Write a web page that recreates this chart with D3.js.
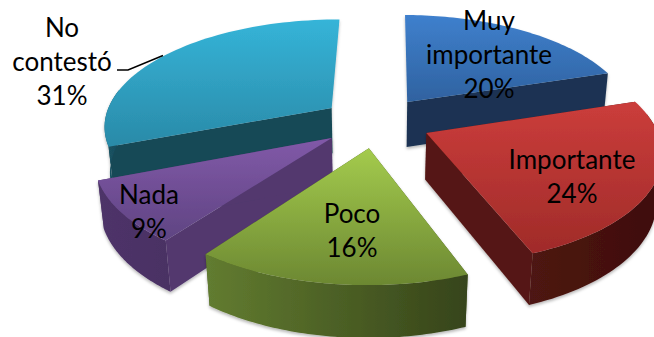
<!DOCTYPE html>
<html>
<head>
<meta charset="utf-8">
<script src="https://cdn.jsdelivr.net/npm/d3@7"></script>
<style>
  html, body { margin: 0; padding: 0; background: #fff; overflow: hidden; }
  svg { display: block; }
  text { font-family: Lato, "Open Sans", sans-serif; fill: #000; }
</style>
</head>
<body>
<svg id="chart" width="654" height="337"></svg>
<script>
// Survey answers, as percentages
const categories = ["Muy importante", "Importante", "Poco", "Nada", "No contestó"];
const shares = [20, 24, 16, 9, 31];

// Per-slice colours: top face gradient, radial wall, outer wall gradient
const topLight = ["#3F80CD", "#CB3D3B", "#A4CB4D", "#8159A8", "#35B4D8"];
const topDark = ["#2F62A0", "#A02B29", "#6C8832", "#5F4482", "#2A8AA8"];
const radialWall = ["#1A3352", "#551815", "#46591F", "#52386E", "#174957"];
const outerLeft = ["#1E3A5E", "#4E1512", "#627C30", "#4E3468", "#1B5566"];
const outerRight = ["#1A3352", "#3E0E0C", "#36441A", "#4A3064", "#174957"];

// Label text placement on the page (centre x, first baseline y)
const labelX = [489, 572, 352, 149, 62];
const labelY = [30, 169, 223, 204, 37];
const lineStep = 34;

// Painter's order: slices further back come first
const paintOrder = [4, 0, 3, 1, 2];

// View of the tilted pie
const view = { cx: 376, cy: 122, radius: 228, tilt: 106.3, persp: 0.156, depth: 47, depthPersp: 0.02, explode: 0.24, turn: 0.01 };

const svg = d3.select("#chart");
const defs = svg.append("defs");

const shadow = defs.append("filter").attr("id", "soft")
  .attr("x", "-10%").attr("y", "-10%").attr("width", "120%").attr("height", "120%");
shadow.append("feDropShadow").attr("dx", 0).attr("dy", 2)
  .attr("stdDeviation", 1.6).attr("flood-color", "#000").attr("flood-opacity", 0.28);

function gradient(id, horizontal, from, to) {
  const g = defs.append("linearGradient").attr("id", id)
    .attr("x1", 0).attr("y1", 0)
    .attr("x2", horizontal ? 1 : 0).attr("y2", horizontal ? 0 : 1);
  g.append("stop").attr("offset", 0).attr("stop-color", from);
  g.append("stop").attr("offset", 1).attr("stop-color", to);
}

// Project a point of the pie plane (unit radius) at height level z (0 top, 1 bottom)
function project(px, py, z) {
  const w = 1 - view.persp * py + view.depthPersp * z;
  return [
    view.cx + view.radius * px / w,
    view.cy + (view.tilt * py + view.depth * z) / w
  ];
}

const slices = d3.pie().sort(null).startAngle(view.turn).endAngle(2 * Math.PI + view.turn)(shares);
const line = d3.line();

paintOrder.forEach(i => {
  const s = slices[i];
  const mid = (s.startAngle + s.endAngle) / 2 - view.turn;
  const ox = view.explode * Math.sin(mid);
  const oy = -view.explode * Math.cos(mid);
  const rim = d3.range(0, 61).map(k => s.startAngle + (s.endAngle - s.startAngle) * k / 60);
  const rimAt = (a, z) => project(ox + Math.sin(a), oy - Math.cos(a), z);
  const apexAt = z => project(ox, oy, z);

  gradient("top" + i, false, topLight[i], topDark[i]);
  gradient("outer" + i, true, outerLeft[i], outerRight[i]);

  const g = svg.append("g").attr("filter", "url(#soft)");

  // Walls first, the top face is laid over whatever it hides.
  // A radial wall pointing straight back is seen edge-on, so it is skipped.
  [s.startAngle, s.endAngle].filter(a => Math.abs(Math.sin(a)) > 0.1).forEach(a => {
    g.append("path")
      .attr("d", line([apexAt(0), rimAt(a, 0), rimAt(a, 1), apexAt(1)]) + "Z")
      .attr("fill", radialWall[i]);
  });

  // Only the part of the rim turned towards the viewer gets an outer wall
  const frontRim = rim.filter(a => Math.cos(a) < 0.2);
  if (frontRim.length > 1) {
    g.append("path")
      .attr("d", line(frontRim.map(a => rimAt(a, 0)).concat(frontRim.slice().reverse().map(a => rimAt(a, 1)))) + "Z")
      .attr("fill", `url(#outer${i})`);
  }
  g.append("path")
    .attr("d", line([apexAt(0)].concat(rim.map(a => rimAt(a, 0)))) + "Z")
    .attr("fill", `url(#top${i})`);
});

// Leader line for the label placed outside its slice
svg.append("path")
  .attr("d", line([[117, 70], [128, 70], [163, 55.5]]))
  .attr("fill", "none").attr("stroke", "#000").attr("stroke-width", 1.5);

// Category and share labels
categories.forEach((name, i) => {
  const rows = name.split(" ").concat(shares[i] + "%");
  const t = svg.append("text")
    .attr("text-anchor", "middle")
    .attr("font-size", 26);
  rows.forEach((row, r) => {
    t.append("tspan").attr("x", labelX[i]).attr("y", labelY[i] + r * lineStep).text(row);
  });
});
</script>
</body>
</html>
